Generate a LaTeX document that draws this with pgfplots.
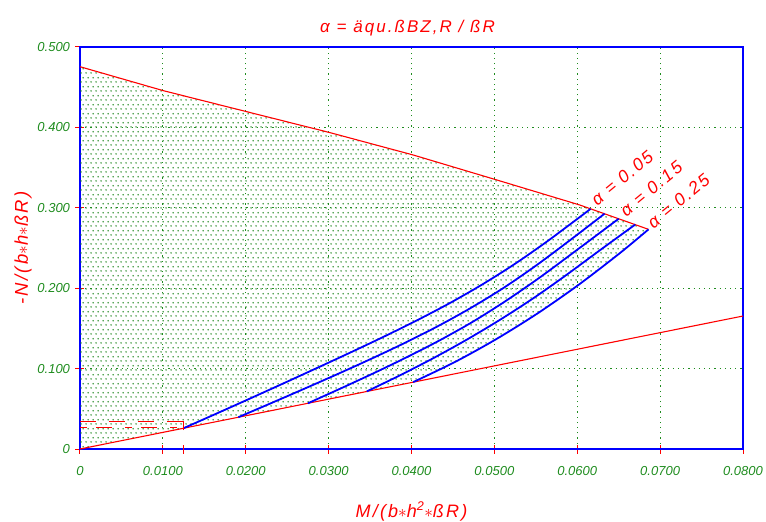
\documentclass[border=0pt]{standalone}
\usepackage{fontspec}
\usepackage{pgfplots}
\pgfplotsset{compat=1.18}
\usetikzlibrary{patterns}
\newfontfamily\cadfont[LetterSpace=12]{Liberation Sans}
\newfontfamily\tickfont{Liberation Sans}
\definecolor{cadred}{RGB}{255,0,0}
\definecolor{cadblue}{RGB}{0,0,255}
\definecolor{cadgreen}{RGB}{30,140,30}
\definecolor{dotgreen}{RGB}{30,135,30}
\pgfdeclarepatternformonly{caddots}{\pgfpointorigin}{\pgfpoint{5pt}{8.6pt}}{\pgfpoint{5pt}{8.6pt}}{%
  \pgfpathcircle{\pgfpoint{1.25pt}{2.15pt}}{0.88pt}%
  \pgfpathcircle{\pgfpoint{3.75pt}{6.45pt}}{0.88pt}%
  \pgfusepath{fill}}
\begin{document}
\begin{tikzpicture}
\begin{axis}[
  scale only axis, width=663pt, height=402pt,
  xmin=0, xmax=0.08, ymin=0, ymax=0.5,
  clip=false,
  axis line style={cadblue, line width=2.2pt},
  xtick={0,0.01,0.02,0.03,0.04,0.05,0.06,0.07,0.08},
  xticklabels={0,0.0100,0.0200,0.0300,0.0400,0.0500,0.0600,0.0700,0.0800},
  ytick={0,0.1,0.2,0.3,0.4,0.5},
  yticklabels={0,0.100,0.200,0.300,0.400,0.500},
  extra x ticks={0.0125}, extra x tick labels={}, extra x tick style={grid=none},
  tick style={cadred, line width=1pt},
  major tick length=9pt,
  tick align=center,
  xtick pos=bottom, ytick pos=left,
  grid=major,
  major grid style={cadgreen, line width=1.2pt, dash pattern=on 1.2pt off 4pt},
  ticklabel style={font=\tickfont\itshape\fontsize{13}{13}\selectfont, text=cadgreen},
  xticklabel style={anchor=base, yshift=-21.7pt},
  yticklabel style={anchor=east, xshift=-2pt},
  scaled ticks=false,
]
% dotted region
\addplot[draw=none, pattern=caddots, pattern color=dotgreen] coordinates {
 (0,0) (0.0402,0.0832) (0.0452,0.1080) (0.0502,0.1365) (0.0552,0.1686)
 (0.0602,0.2045) (0.0652,0.2441) (0.0686,0.2732) (0.0603,0.3035) (0.0503,0.3346)
 (0.0402,0.3657) (0.0302,0.3934) (0.0201,0.4196) (0.01005,0.4457) (0,0.4755)};
% boundary lines
\addplot[color=cadred, line width=1.1pt] coordinates {
 (0,0.4755) (0.01005,0.4457) (0.0201,0.4196) (0.0302,0.3934) (0.0402,0.3657)
 (0.0503,0.3346) (0.0603,0.3035) (0.0686,0.2732)};
\addplot[color=cadred, line width=1.1pt] coordinates {(0,0) (0.08,0.1654)};
% alpha curves (0.05, 0.10, 0.15, 0.20, 0.25)
\addplot[cadblue, line width=1.8pt, smooth] coordinates {
 (0.0125,0.0259) (0.0165,0.0442) (0.0205,0.0627) (0.0245,0.0814) (0.0285,0.1003)
 (0.0325,0.1194) (0.0365,0.1389) (0.0405,0.1592) (0.0445,0.1808) (0.0485,0.2044)
 (0.0525,0.2304) (0.0565,0.2592) (0.0605,0.2900) (0.0616,0.2987)};
\addplot[cadblue, line width=1.8pt, smooth] coordinates {
 (0.0191,0.0395) (0.0231,0.0572) (0.0271,0.0751) (0.0311,0.0933) (0.0351,0.1120)
 (0.0391,0.1315) (0.0431,0.1523) (0.0471,0.1751) (0.0511,0.2003) (0.0551,0.2287)
 (0.0591,0.2595) (0.0633,0.2927)};
\addplot[cadblue, line width=1.8pt, smooth] coordinates {
 (0.0275,0.0569) (0.0315,0.0755) (0.0355,0.0946) (0.0395,0.1145) (0.0435,0.1357)
 (0.0475,0.1589) (0.0515,0.1850) (0.0555,0.2135) (0.0595,0.2440) (0.0650,0.2864)};
\addplot[cadblue, line width=1.8pt, smooth] coordinates {
 (0.0346,0.0716) (0.0386,0.0916) (0.0426,0.1128) (0.0466,0.1356) (0.0506,0.1602)
 (0.0546,0.1868) (0.0586,0.2158) (0.0626,0.2462) (0.0670,0.2792)};
\addplot[cadblue, line width=1.8pt, smooth] coordinates {
 (0.0402,0.0832) (0.0452,0.1080) (0.0502,0.1365) (0.0552,0.1686) (0.0602,0.2045)
 (0.0652,0.2441) (0.0686,0.2732)};
% dashed marker lines (annotation)
\draw[red, line width=1.6pt, dash pattern=on 16pt off 13pt] (axis cs:0,0.0342) -- (axis cs:0.0125,0.0342);
\draw[red, line width=1.6pt, dash pattern=on 7pt off 9pt on 16pt off 13pt] (axis cs:0,0.0267) -- (axis cs:0.0125,0.0267);
\draw[red, line width=1.4pt] (axis cs:0.0125,0.0236) -- (axis cs:0.0125,0.0344);
% labels
\node[anchor=base west, rotate=39.5, text=cadred, font=\cadfont\itshape\fontsize{17.5}{17.5}\selectfont, inner sep=0pt]
  at (axis cs:0.0624,0.3014) {α = 0.05};
\node[anchor=base west, rotate=39.5, text=cadred, font=\cadfont\itshape\fontsize{17.5}{17.5}\selectfont, inner sep=0pt]
  at (axis cs:0.0659,0.2882) {α = 0.15};
\node[anchor=base west, rotate=39.5, text=cadred, font=\cadfont\itshape\fontsize{17.5}{17.5}\selectfont, inner sep=0pt]
  at (axis cs:0.0692,0.2732) {α = 0.25};
\node[anchor=base, text=cadred, font=\cadfont\itshape\fontsize{17}{17}\selectfont, inner sep=0pt]
  at ([yshift=14pt]rel axis cs:0.494,1) {α = äqu.ßBZ,R / ßR};
\node[anchor=base, text=cadred, font=\cadfont\itshape\fontsize{18}{18}\selectfont, inner sep=0pt]
  at ([yshift=-68pt]rel axis cs:0.5,0) {M/(b$\ast$h\textsuperscript{2}$\ast$ßR)};
\node[anchor=base, rotate=90, text=cadred, font=\cadfont\itshape\fontsize{18.5}{18.5}\selectfont, inner sep=0pt]
  at ([xshift=-52pt]rel axis cs:0,0.5) {-N/(b$\ast$h$\ast$ßR)};
\end{axis}
\pgfresetboundingbox
\path ([xshift=-80pt,yshift=-72pt]current axis.south west) rectangle ([xshift=23pt,yshift=47pt]current axis.north east);
\end{tikzpicture}
\end{document}
